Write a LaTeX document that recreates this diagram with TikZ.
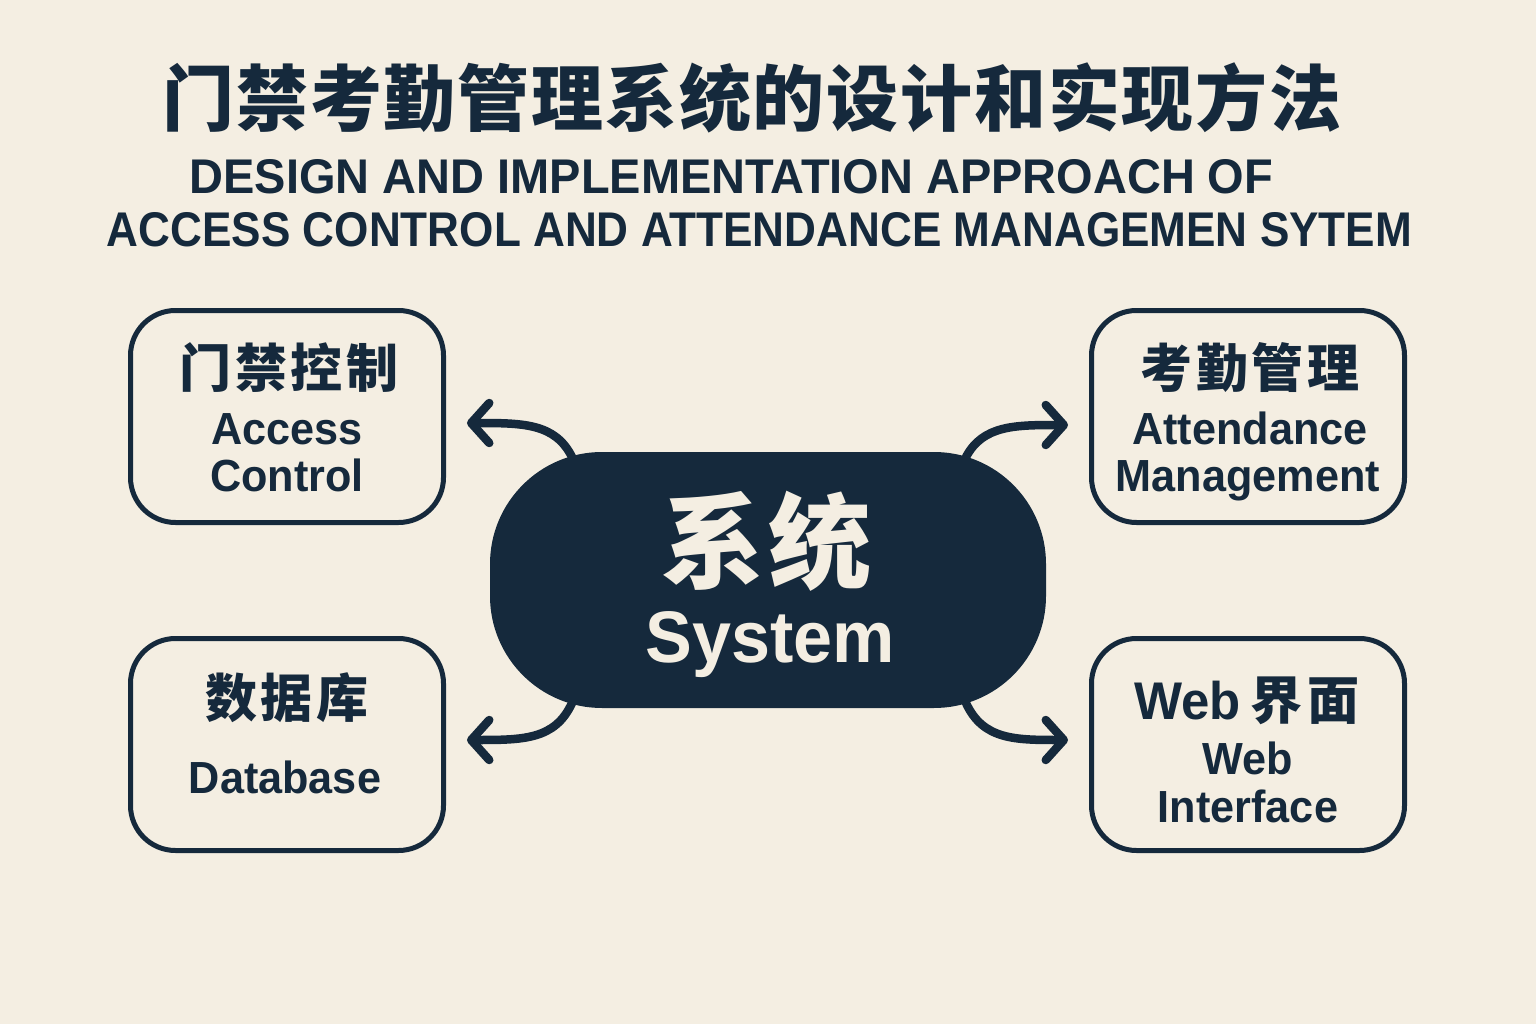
\documentclass[tikz,border=0pt]{standalone}
\usepackage{fontspec}
\usepackage{graphicx}
\usetikzlibrary{arrows.meta,calc}
\setmainfont{Liberation Sans}
\newfontfamily\cjk{Noto Sans CJK SC}
\newfontfamily\boxfont{Liberation Sans}[FakeStretch=0.96]
\definecolor{bg}{HTML}{F4EEE2}
\definecolor{navy}{HTML}{15293C}
\tikzset{
  box/.style={draw=navy, line width=5pt, rounded corners=45pt, minimum width=313pt, minimum height=212pt, inner sep=0pt},
  core/.style={fill=navy, rounded corners=112pt, minimum width=556pt, minimum height=256pt, inner sep=0pt},
  cjkhead/.style={anchor=base, text=navy, font=\cjk\bfseries\fontsize{52}{60}\selectfont\addfontfeature{LetterSpace=7}},
  entxt/.style={anchor=base, text=navy, font=\boxfont\bfseries\fontsize{45}{50}\selectfont},
  arr/.style={draw=navy, line width=8.5pt, line cap=round, line join=round, -{Straight Barb[length=18pt,width=40pt,round]}}
}
\begin{document}
\begin{tikzpicture}[x=1pt,y=-1pt]
\useasboundingbox[fill=bg] (0,0) rectangle (1536,1024);
% titles
\node[anchor=base, text=navy, font=\cjk\bfseries\fontsize{72}{80}\selectfont\addfontfeature{LetterSpace=2.5}] (title) at (752,126) {门禁考勤管理系统的设计和实现方法};
\node[anchor=base, text=navy, inner sep=0pt] (sub1) at (731.5,194) {\resizebox{1083pt}{34pt}{\bfseries DESIGN AND IMPLEMENTATION APPROACH OF}};
\node[anchor=base, text=navy, inner sep=0pt] (sub2) at (759.5,247) {\resizebox{1305pt}{34pt}{\bfseries ACCESS CONTROL AND ATTENDANCE MANAGEMEN SYTEM}};
% boxes
\node[box] (ac) at (287,416.5) {};
\node[box] (at) at (1248,416.5) {};
\node[box] (db) at (287,744.5) {};
\node[box] (web) at (1248,744.5) {};
\node[core] (sys) at (768,580) {};
% box texts
\node[cjkhead] (acz) at (289,387) {门禁控制};
\node[entxt] (ace1) at (287,444) {Access};
\node[entxt] (ace2) at (287,491) {Control};
\node[cjkhead] (atz) at (1250,387) {考勤管理};
\node[entxt] (ate1) at (1250,444) {Attendance};
\node[entxt] (ate2) at (1248,491) {Management};
\node[cjkhead] (dbz) at (287,717) {数据库};
\node[entxt] (dbe) at (285,793) {Database};
\node[anchor=base, text=navy] (webz) at (1247,719) {{\boxfont\bfseries\fontsize{53}{60}\selectfont Web}\hspace{10pt}{\cjk\bfseries\fontsize{52}{60}\selectfont\addfontfeature{LetterSpace=10}界面}};
\node[entxt] (webe1) at (1248,774) {Web};
\node[entxt] (webe2) at (1248,822) {Interface};
\node[anchor=base, text=bg, font=\cjk\bfseries\fontsize{103}{110}\selectfont\addfontfeature{LetterSpace=4}] (sysz) at (767,580) {系统};
\node[anchor=base, text=bg, font=\boxfont\bfseries\fontsize{73}{80}\selectfont] (syse) at (770,662) {System};
% connectors
\draw[arr] ($(sys.center)+(-196,-123)$) .. controls ($(sys.center)+(-213,-157)$) and ($(sys.center)+(-245,-157)$) .. ($(ac.east)+(21,6.5)$);
\draw[arr] ($(sys.center)+(198,-123)$) .. controls ($(sys.center)+(215,-155)$) and ($(sys.center)+(247,-155)$) .. ($(at.west)+(-21,8.5)$);
\draw[arr] ($(sys.center)+(-196,123)$) .. controls ($(sys.center)+(-213,160)$) and ($(sys.center)+(-245,160)$) .. ($(db.east)+(21,-4.5)$);
\draw[arr] ($(sys.center)+(198,123)$) .. controls ($(sys.center)+(215,160)$) and ($(sys.center)+(247,160)$) .. ($(web.west)+(-21,-4.5)$);
\end{tikzpicture}
\end{document}
